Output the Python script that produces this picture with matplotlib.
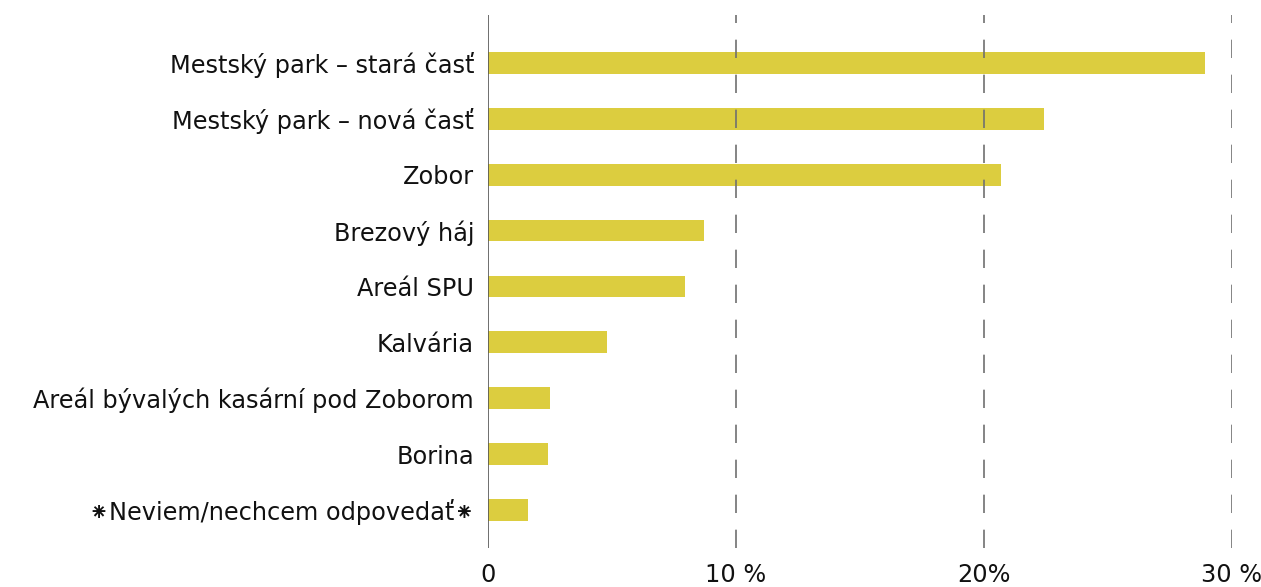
import matplotlib.pyplot as plt

# === Data ===
categories = [
    "Mestský park – stará časť",
    "Mestský park – nová časť",
    "Zobor",
    "Brezový háj",
    "Areál SPU",
    "Kalvária",
    "Areál bývalých kasární pod Zoborom",
    "Borina",
    "⁕Neviem/nechcem odpovedať⁕",
]
values = [28.9, 22.4, 20.7, 8.7, 7.95, 4.8, 2.5, 2.4, 1.6]
tick_values = [0, 10, 20, 30]
tick_labels = ["0", "10 %", "20%", "30 %"]

plt.rcParams['font.family'] = ['DejaVu Sans']

fig = plt.figure(figsize=(12.61, 5.87), dpi=100)
ax = fig.add_axes([488 / 1261, 39 / 587, 744 / 1261, 533 / 587])

ypos = list(range(len(categories)))
ax.barh(ypos, values, height=0.39, color='#dccd3f', zorder=1)

# dashed gridlines at 10/20/30, drawn over the bars
for x in tick_values[1:]:
    ax.axvline(x, color='#707070', lw=1.2, ls=(0, (11, 10)), zorder=3)
ax.axvline(0, color='#555555', lw=1.2, zorder=3)

ax.set_xlim(0, 30)
ax.set_ylim(8.68, -0.857)
ax.set_yticks(ypos)
ax.set_yticklabels(categories, fontsize=17.3, color='#111111')
ax.set_xticks(tick_values)
ax.set_xticklabels(tick_labels, fontsize=17.3, color='#111111')
ax.tick_params(axis='both', length=0)
ax.tick_params(axis='y', pad=10)
ax.tick_params(axis='x', pad=11)

for s in ax.spines.values():
    s.set_visible(False)

plt.savefig('out.png', dpi=100)
